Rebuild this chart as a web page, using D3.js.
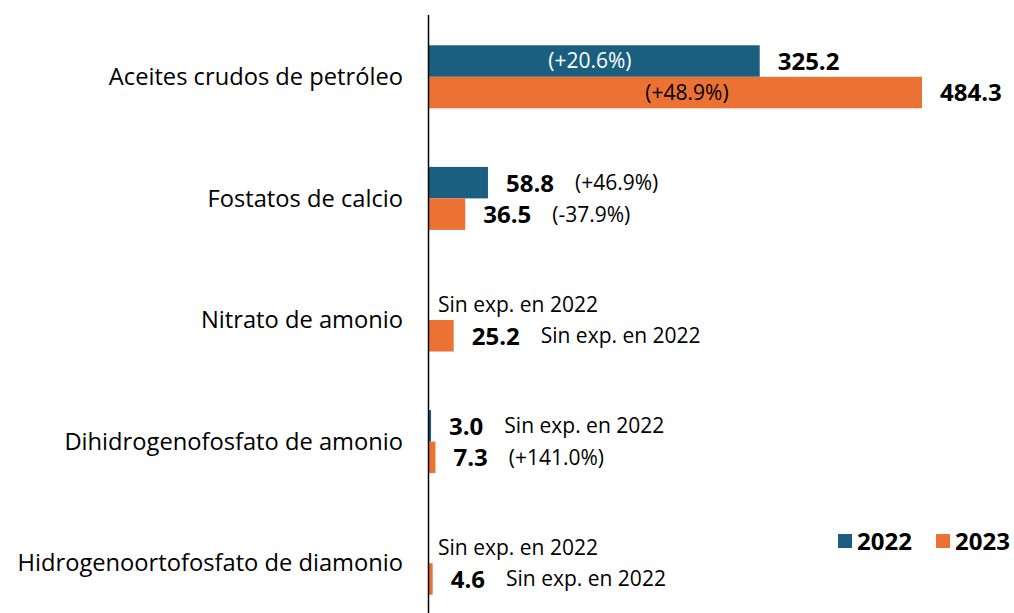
<!DOCTYPE html>
<html>
<head>
<meta charset="utf-8">
<script src="https://cdn.jsdelivr.net/npm/d3@7"></script>
<style>
  body { margin: 0; background: #fff; }
  text { font-family: "Open Sans", sans-serif; }
</style>
</head>
<body>
<div id="chart"></div>
<script>
let categories = ["Aceites crudos de petróleo", "Fostatos de calcio", "Nitrato de amonio",
    "Dihidrogenofosfato de amonio", "Hidrogenoortofosfato de diamonio"];
let years = ["2022", "2023"];
let values2022 = [325.2, 58.8, 0, 3.0, 0];
let values2023 = [484.3, 36.5, 25.2, 7.3, 4.6];
let notes2022 = ["(+20.6%)", "(+46.9%)", "Sin exp. en 2022", "Sin exp. en 2022", "Sin exp. en 2022"];
let notes2023 = ["(+48.9%)", "(-37.9%)", "Sin exp. en 2022", "(+141.0%)", "Sin exp. en 2022"];
let inside = [true, false, false, false, false];

let w = 1014;
let h = 613;
let colors = {"2022": "#1a5e80", "2023": "#eb7233"};

let rows = [];
categories.forEach(function (c, i) {
    rows.push({cat: c, year: "2022", v: values2022[i], note: notes2022[i], inside: inside[i]});
    rows.push({cat: c, year: "2023", v: values2023[i], note: notes2023[i], inside: inside[i]});
});

let svg = d3.select("#chart").append("svg")
    .attr("width", w)
    .attr("height", h);

let x = d3.scaleLinear().domain([0, 484.3]).range([428, 922]);
let y = d3.scaleBand().domain(categories).range([16, 624]);
let y2 = d3.scaleBand().domain(years).range([0, y.bandwidth()]).paddingOuter(0.93).paddingInner(0);

// category labels
svg.selectAll("text.cat")
    .data(categories)
    .enter()
    .append("text")
    .attr("class", "cat")
    .attr("x", 403)
    .attr("y", function (d) { return y(d) + y.bandwidth() / 2; })
    .attr("dy", "0.35em")
    .attr("text-anchor", "end")
    .attr("font-size", "23.7px")
    .attr("fill", "#000")
    .text(function (d) { return d; });

// bars
svg.selectAll("rect.bar")
    .data(rows.filter(function (d) { return d.v > 0; }))
    .enter()
    .append("rect")
    .attr("class", "bar")
    .attr("x", x(0))
    .attr("y", function (d) { return y(d.cat) + y2(d.year); })
    .attr("width", function (d) { return x(d.v) - x(0); })
    .attr("height", y2.bandwidth())
    .attr("fill", function (d) { return colors[d.year]; });

// axis line
svg.append("line")
    .attr("x1", 428.5).attr("x2", 428.5)
    .attr("y1", 15).attr("y2", h)
    .attr("stroke", "#000")
    .attr("stroke-width", 1.5);

// labels
rows.forEach(function (d) {
    let cy = y(d.cat) + y2(d.year) + y2.bandwidth() / 2;
    if (d.v === 0) {
        svg.append("text")
            .attr("x", x(0) + 10)
            .attr("y", cy)
            .attr("dy", "0.35em")
            .attr("font-size", "21px")
            .text(d.note);
        return;
    }
    let val = svg.append("text")
        .attr("x", x(d.v) + 18)
        .attr("y", cy)
        .attr("dy", "0.37em")
        .attr("font-size", "24px")
        .attr("font-weight", "bold")
        .text(d.v.toFixed(1));
    if (d.inside) {
        svg.append("text")
            .attr("x", (x(0) + x(d.v)) / 2 + (d.year === "2022" ? -4 : 12))
            .attr("y", cy)
            .attr("dy", "0.35em")
            .attr("text-anchor", "middle")
            .attr("font-size", "21px")
            .attr("fill", d.year === "2022" ? "#fff" : "#000")
            .text(d.note);
    } else {
        let vw = val.node().getComputedTextLength();
        svg.append("text")
            .attr("x", x(d.v) + 18 + vw + 21)
            .attr("y", cy)
            .attr("dy", "0.35em")
            .attr("font-size", "21px")
            .text(d.note);
    }
});

// legend
let legend = svg.selectAll("g.legend")
    .data(years)
    .enter()
    .append("g")
    .attr("class", "legend")
    .attr("transform", function (d, i) { return "translate(" + (838 + i * 98) + ",534)"; });

legend.append("rect")
    .attr("width", 14)
    .attr("height", 14)
    .attr("fill", function (d) { return colors[d]; });

legend.append("text")
    .attr("x", 19)
    .attr("y", 7)
    .attr("dy", "0.37em")
    .attr("font-size", "24px")
    .attr("font-weight", "bold")
    .text(function (d) { return d; });
</script>
</body>
</html>
